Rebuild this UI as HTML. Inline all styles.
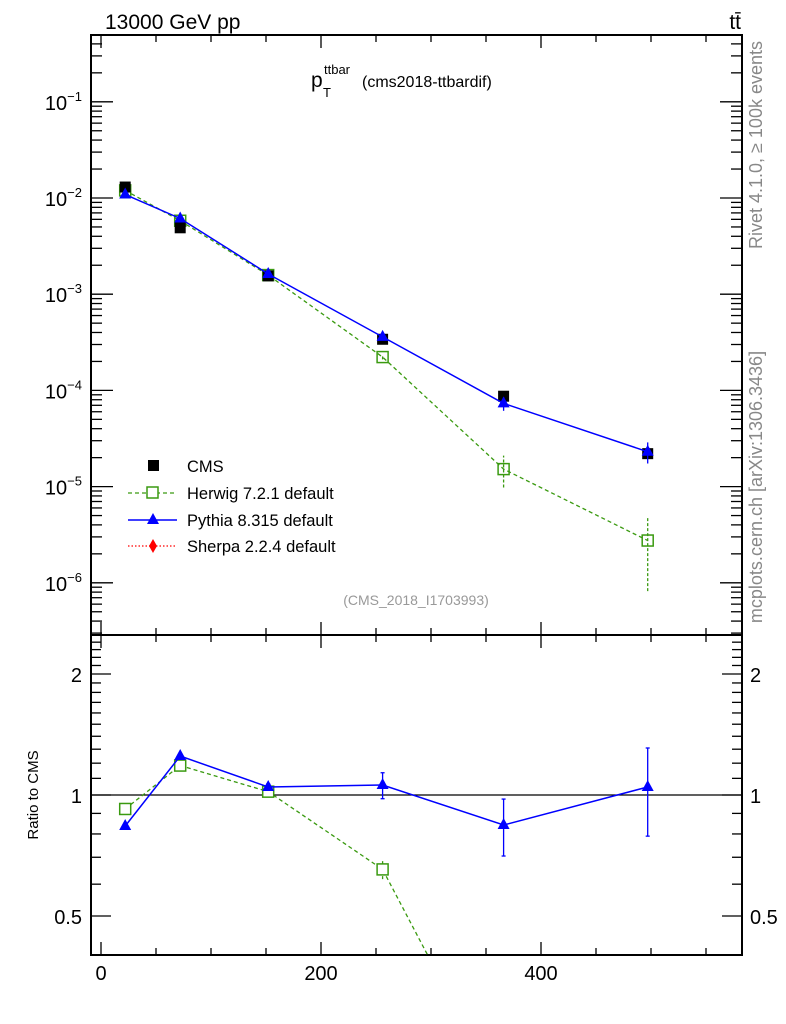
<!DOCTYPE html>
<html><head><meta charset="utf-8"><style>
html,body{margin:0;background:#fff;width:786px;height:1024px;overflow:hidden}
svg{font-family:"Liberation Sans",sans-serif;display:block}
</style></head><body>
<svg id="c" width="786" height="1024" viewBox="0 0 786 1024">
<text x="105" y="29" font-size="21">13000 GeV pp</text>
<text x="741" y="29" font-size="21" text-anchor="end">tt̄</text>
<g>
<text x="311" y="87" font-size="21">p</text>
<text x="324" y="74" font-size="13">ttbar</text>
<text x="323" y="97" font-size="13">T</text>
<text x="362" y="87" font-size="16">(cms2018-ttbardif)</text>
</g>
<text transform="translate(762,145) rotate(-90)" font-size="18" fill="#888" text-anchor="middle">Rivet 4.1.0, ≥ 100k events</text>
<text transform="translate(762,487) rotate(-90)" font-size="18" fill="#888" text-anchor="middle">mcplots.cern.ch [arXiv:1306.3436]</text>
<text x="416" y="605" font-size="14" fill="#999" text-anchor="middle">(CMS_2018_I1703993)</text>
<text transform="translate(38,795) rotate(-90)" font-size="15" text-anchor="middle">Ratio to CMS</text>
<g id="g"></g>
<g>
<g><rect x="148" y="460" width="11" height="11" fill="#000"/><text x="187" y="472" font-size="16.5">CMS</text></g>
<g><line x1="128" y1="493" x2="177" y2="493" stroke="#3a9a10" stroke-width="1.3" stroke-dasharray="4,3"/><rect x="147" y="487" width="11" height="11" fill="#fff" stroke="#3a9a10" stroke-width="1.5"/><text x="187" y="499" font-size="16.5">Herwig 7.2.1 default</text></g>
<g><line x1="128" y1="520" x2="177" y2="520" stroke="#00f" stroke-width="1.5"/><polygon points="153,513 159,524 147,524" fill="#00f"/><text x="187" y="526" font-size="16.5">Pythia 8.315 default</text></g>
<g><line x1="128" y1="546" x2="177" y2="546" stroke="#f00" stroke-width="1.2" stroke-dasharray="1.5,2"/><polygon points="153,539 157,546 153,553 149,546" fill="#f00"/><text x="187" y="552" font-size="16.5">Sherpa 2.2.4 default</text></g>
</g>
</svg>
<script>
const xs=[22,72,152,256,366,497];
const cms=[0.0130,0.0049,0.00155,0.00034,0.000087,0.000022];
const pythiaRatio=[0.837,1.25,1.047,1.059,0.842,1.047];
const pythiaRatioLo=[0.837,1.25,1.03,0.979,0.705,0.79];
const pythiaRatioHi=[0.837,1.25,1.065,1.136,0.977,1.309];
const herwigMain=[0.0120,0.0058,0.00158,0.000222,0.0000152,0.00000275];
const herwigMainLo=[0.0120,0.0058,0.00158,0.000210,0.0000098,0.00000082];
const herwigMainHi=[0.0120,0.0058,0.00158,0.000235,0.0000210,0.0000048];
const yTicksMain=[-6,-5,-4,-3,-2,-1];
const xTicks=[0,200,400];
const rTicks=[0.5,1,2];

const NS="http://www.w3.org/2000/svg";
const g=document.getElementById('g');
const L=91,R=742,T=35,M=635,B=955;
const X=v=>101+v*1.1;
const Y=v=>198-(Math.log10(v)+2)*96.2;
const RY=r=>795-121*Math.log2(r);
function el(t,a,n,p){const e=document.createElementNS(NS,t);for(const k in a)e.setAttribute(k,a[k]);

(p||g).appendChild(e);return e;}
function ln(x1,y1,x2,y2,n,st,w,da){return el('line',{x1,y1,x2,y2,stroke:st||'#000','stroke-width':w||1.3,'stroke-dasharray':da||'none'},n);}
function tx(x,y,s,n,anc,fs){const e=el('text',{x,y,'font-size':fs||20,'text-anchor':anc||'middle'},n);e.textContent=s;return e;}
el('rect',{x:L,y:T,width:R-L,height:M-T,fill:'none',stroke:'#000','stroke-width':2},'main-frame');
el('rect',{x:L,y:M,width:R-L,height:B-M,fill:'none',stroke:'#000','stroke-width':2},'ratio-frame');
for(let v=0;v<=580;v+=50){const maj=v%200==0;const l=maj?13:7;const x=X(v);
[[T,1],[M,-1],[M,1],[B,-1]].forEach(([y,d])=>ln(x,y,x,y+d*l,'x-tick'));}
xTicks.forEach(v=>tx(X(v),980,v,'x-tick-label'));
for(let d=-7;d<=0;d++)for(let k=1;k<10;k++){const v=k*Math.pow(10,d);const y=Y(v);if(y<T+1||y>M-1)continue;const l=k==1?22:11;
ln(L,y,L+l,y,'y-tick');ln(R,y,R-l,y,'y-tick');}
yTicksMain.forEach(e=>{const t=tx(82,Y(Math.pow(10,e))+8,'','y-tick-label','end');t.innerHTML='10<tspan font-size="13" dy="-9">−'+(-e)+'</tspan>';});
for(let r=0.4;r<=2.55;r+=0.1){const y=RY(r);if(y<M+1||y>B-1)continue;const maj=rTicks.some(t=>Math.abs(t-r)<1e-6);const l=maj?20:10;
ln(L,y,L+l,y,'ratio-tick');ln(R,y,R-l,y,'ratio-tick');}
rTicks.forEach(r=>{tx(82,RY(r)+8,r,'ratio-tick-label','end');tx(750,RY(r)+8,r,'ratio-tick-label-right','start');});
ln(L,RY(1),R,RY(1),'ratio-unity-line','#000',1.3);
const hp=xs.map((x,i)=>X(x)+','+Y(herwigMain[i])).join(' ');
el('polyline',{points:hp,fill:'none',stroke:'#3a9a10','stroke-width':1.3,'stroke-dasharray':'4,3'},'herwig-line');
xs.forEach((x,i)=>{ln(X(x),Y(herwigMainLo[i]),X(x),Y(herwigMainHi[i]),'herwig-error','#3a9a10',1.3,'3,2');
el('rect',{x:X(x)-5.5,y:Y(herwigMain[i])-5.5,width:11,height:11,fill:'none',stroke:'#3a9a10','stroke-width':1.5},'herwig-point');});
xs.forEach((x,i)=>el('rect',{x:X(x)-5.5,y:Y(cms[i])-5.5,width:11,height:11,fill:'#000'},'cms-point'));
const pm=xs.map((x,i)=>cms[i]*pythiaRatio[i]);
el('polyline',{points:xs.map((x,i)=>X(x)+','+Y(pm[i])).join(' '),fill:'none',stroke:'#00f','stroke-width':1.5},'pythia-line');
xs.forEach((x,i)=>{ln(X(x),Y(cms[i]*pythiaRatioLo[i]),X(x),Y(cms[i]*pythiaRatioHi[i]),'pythia-error','#00f',1.3);
const cx=X(x),cy=Y(pm[i]);el('polygon',{points:`${cx},${cy-7} ${cx+6},${cy+4} ${cx-6},${cy+4}`,fill:'#00f'},'pythia-point');});
const clip=el('clipPath',{id:'rc'},'ratio-clip');el('rect',{x:L,y:M,width:R-L,height:B-M},'ratio-clip-rect',clip);
const hr=xs.map((x,i)=>herwigMain[i]/cms[i]);
el('polyline',{points:xs.map((x,i)=>X(x)+','+RY(hr[i])).join(' '),fill:'none',stroke:'#3a9a10','stroke-width':1.3,'stroke-dasharray':'4,3','clip-path':'url(#rc)'},'herwig-ratio-line');
xs.forEach((x,i)=>{const y=RY(hr[i]);if(y>B)return;
if(herwigMainHi[i]!=herwigMain[i])ln(X(x),RY(herwigMainLo[i]/cms[i]),X(x),RY(herwigMainHi[i]/cms[i]),'herwig-ratio-error','#3a9a10',1.3,'3,2');
el('rect',{x:X(x)-5.5,y:y-5.5,width:11,height:11,fill:'#fff',stroke:'#3a9a10','stroke-width':1.5},'herwig-ratio-point');});
el('polyline',{points:xs.map((x,i)=>X(x)+','+RY(pythiaRatio[i])).join(' '),fill:'none',stroke:'#00f','stroke-width':1.5},'pythia-ratio-line');
xs.forEach((x,i)=>{const cx=X(x);
if(pythiaRatioHi[i]!=pythiaRatioLo[i]){ln(cx,RY(pythiaRatioLo[i]),cx,RY(pythiaRatioHi[i]),'pythia-ratio-error','#00f',1.3);
ln(cx-2,RY(pythiaRatioLo[i]),cx+2,RY(pythiaRatioLo[i]),'pythia-ratio-cap','#00f',1.3);ln(cx-2,RY(pythiaRatioHi[i]),cx+2,RY(pythiaRatioHi[i]),'pythia-ratio-cap','#00f',1.3);}
const cy=RY(pythiaRatio[i]);el('polygon',{points:`${cx},${cy-7} ${cx+6},${cy+4} ${cx-6},${cy+4}`,fill:'#00f'},'pythia-ratio-point');});
</script>
</body></html>
